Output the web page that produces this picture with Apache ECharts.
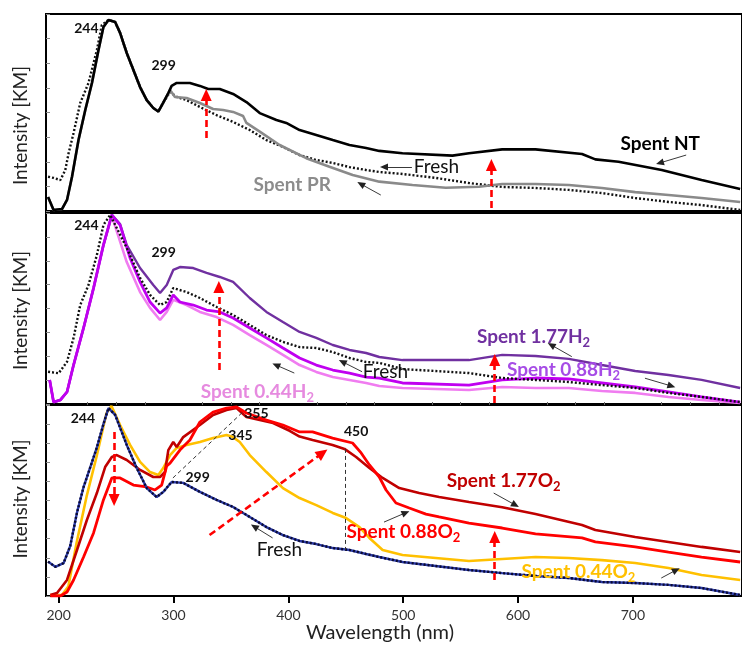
<!DOCTYPE html>
<html><head><meta charset="utf-8">
<script src="https://cdn.jsdelivr.net/npm/echarts@6/dist/echarts.min.js"></script>
<style>html,body{margin:0;padding:0;background:#fff}#c{width:742px;height:648px}</style>
</head><body><div id="c"></div>
<script>
// ---------- Tick labels ----------
const majorTicks = [200, 300, 400, 500, 600, 700];
const minorTicks = [225, 250, 275, 325, 350, 375, 425, 450, 475, 525, 550, 575, 625, 650, 675, 725, 750, 775];

// ---------- Panel 1 (Spent NT / Spent PR / Fresh) ----------
const ntLam = [190.8,195.6,202.9,207.3,211.6,217.3,223.2,229.0,234.7,239.0,243.4,249.2,253.5,259.3,265.1,270.9,276.7,282.4,286.8,291.1,295.5,298.4,302.8,314.3,323.0,330.2,340.3,351.9,363.5,375.1,389.6,398.2,409.8,424.3,438.7,453.2,467.7,479.2,499.4,542.9,557.3,586.2,615.2,655.7,667.3,687.5,725.1,759.8,793.4];
const ntVal = [7.1,0.5,1.0,5.6,17.3,36.0,51.3,65.0,81.7,93.4,97.0,95.9,90.4,80.2,71.6,62.9,56.3,52.3,50.5,55.0,59.9,63.5,65.0,65.0,63.5,61.9,61.9,59.4,55.3,49.7,46.2,44.7,41.1,38.6,36.0,33.5,32.0,30.5,29.3,28.1,29.3,31.3,31.3,28.9,26.2,25.0,20.8,15.7,11.2];
const prLam = [190.8,195.6,202.9,207.3,211.6,217.3,223.2,229.0,234.7,239.0,243.4,249.2,253.5,259.3,265.1,270.9,276.7,282.4,286.8,291.1,297.0,301.3,311.4,323.0,334.5,343.2,351.9,360.6,363.5,375.1,392.4,415.6,435.8,456.0,479.2,508.1,537.1,566.0,586.2,615.2,644.2,673.0,702.0,731.0,759.8,793.4];
const prVal = [7.1,0.5,1.0,5.6,17.3,36.0,51.3,65.0,81.7,93.4,97.0,95.9,90.4,80.2,71.6,62.9,56.3,52.3,50.5,55.0,61.4,57.9,57.4,54.8,51.8,51.3,50.3,48.2,44.7,40.3,33.5,26.8,22.5,18.3,14.9,13.2,11.8,12.3,13.7,13.7,13.2,11.7,9.6,8.1,6.6,4.6];
const fresh1Lam = [190.8,195.6,201.5,205.8,208.7,213.0,218.8,226.0,233.3,237.6,243.4,249.2,253.5,259.3,265.1,270.9,276.7,282.4,286.8,291.1,297.0,302.8,311.4,323.0,337.5,351.9,366.4,380.9,395.3,409.8,424.3,438.7,453.2,467.7,479.2,499.4,528.3,557.3,586.2,615.2,644.2,673.0,702.0,731.0,759.8,793.4];
const fresh1Val = [17.4,16.8,15.7,20.8,29.4,39.6,54.8,65.0,81.7,94.4,97.0,95.9,90.4,80.2,71.6,62.9,56.3,52.3,50.5,55.0,60.4,57.9,56.3,52.8,48.7,45.2,41.1,36.0,32.5,28.4,25.9,24.4,22.3,20.8,19.8,18.8,16.8,14.2,12.2,11.7,10.7,9.1,6.6,4.6,3.0,0.5];

// ---------- Panel 2 (H2 series) ----------
const h177Lam = [192.2,195.6,201.5,207.3,213.0,221.7,230.4,239.0,246.3,253.5,259.3,270.9,282.4,288.3,294.1,299.8,305.6,317.2,328.8,340.3,351.9,366.4,380.9,395.3,409.8,424.3,438.7,453.2,467.7,479.2,499.4,557.3,586.2,615.2,644.2,673.0,702.0,731.0,759.8,793.4];
const h177Val = [12.6,1.0,2.1,6.3,20.4,39.8,60.7,83.2,99.0,94.2,83.2,71.2,62.3,58.1,62.3,70.2,71.7,71.2,68.6,66.5,63.9,55.5,48.2,42.9,37.7,34.6,30.9,28.3,26.7,24.6,23.0,23.0,25.7,25.1,23.6,20.4,17.3,15.2,12.6,8.4];
const h088Lam = [192.2,195.6,201.5,207.3,213.0,221.7,230.4,239.0,246.3,253.5,262.2,270.9,279.6,288.3,294.1,299.8,305.6,317.2,328.8,340.3,351.9,366.4,380.9,395.3,409.8,424.3,438.7,453.2,467.7,479.2,499.4,557.3,586.2,615.2,644.2,673.0,702.0,731.0,759.8,793.4];
const h088Val = [12.6,1.0,2.1,6.3,20.4,39.8,60.7,83.2,99.0,93.7,76.4,63.9,53.4,47.6,50.3,57.1,53.4,51.8,49.2,48.2,45.0,39.8,34.6,29.3,24.1,20.4,17.8,16.2,14.1,13.6,11.0,9.9,12.6,13.6,13.1,11.0,8.9,6.3,3.7,1.0];
const h044Lam = [192.2,195.6,201.5,207.3,213.0,221.7,230.4,239.0,246.3,259.3,270.9,279.6,288.3,294.1,299.8,311.4,323.0,337.5,351.9,366.4,380.9,395.3,409.8,424.3,438.7,453.2,467.7,479.2,499.4,557.3,586.2,615.2,644.2,673.0,702.0,731.0,759.8,793.4];
const h044Val = [12.6,1.0,2.1,6.3,20.4,39.8,60.7,83.2,98.5,74.3,58.6,50.3,44.0,48.2,54.5,51.8,48.2,45.5,41.4,36.1,30.9,25.7,20.4,16.8,14.1,12.6,11.0,9.4,8.4,7.3,8.9,8.4,8.4,6.8,5.8,3.7,2.1,0.5];
const fresh2Lam = [190.8,200.0,207.3,213.0,218.8,226.0,233.3,239.0,244.9,259.3,270.9,279.6,288.3,294.1,299.8,311.4,323.0,337.5,351.9,366.4,380.9,395.3,409.8,424.3,438.7,453.2,467.7,479.2,499.4,557.3,586.2,615.2,644.2,673.0,702.0,731.0,759.8,793.4];
const fresh2Val = [16.9,16.1,22.1,34.6,51.8,62.3,78.0,93.7,99.0,81.7,66.0,57.1,51.8,53.4,60.7,58.6,55.5,50.8,46.6,41.4,36.1,32.5,29.8,29.3,27.2,24.1,22.0,21.5,18.3,16.2,13.6,12.6,11.5,9.9,8.4,5.8,3.7,1.0];

// ---------- Panel 3 (O2 series) ----------
const fresh3Lam = [190.8,197.1,204.3,210.1,216.0,221.7,227.5,233.3,239.0,243.4,249.2,259.3,268.0,276.7,285.4,291.1,298.4,308.5,323.0,337.5,351.9,366.4,380.9,395.3,409.8,424.3,438.7,453.2,467.7,479.2,499.4,528.3,557.3,586.2,615.2,644.2,673.0,702.0,731.0,759.8,793.4];
const fresh3Val = [18.0,15.3,17.2,26.2,43.7,57.0,67.3,77.8,90.0,98.4,94.8,79.1,67.0,56.5,51.8,54.5,59.7,59.2,54.5,50.3,46.6,41.4,36.1,31.9,28.8,27.2,25.1,24.1,22.0,20.4,17.8,15.7,13.6,12.0,10.5,9.4,7.3,6.8,5.8,4.2,0.5];
const o044Lam = [192.8,202.9,208.4,215.6,224.3,233.0,241.7,246.0,253.5,262.2,270.9,279.6,286.8,291.1,297.0,302.8,311.4,323.0,334.5,346.2,351.9,357.7,366.4,380.9,395.3,409.8,424.3,438.7,450.3,461.9,470.6,482.1,499.4,528.3,557.3,586.2,615.2,644.2,673.0,702.0,731.0,759.8,793.4];
const o044Val = [0.5,0.5,4.9,27.7,52.0,72.9,95.8,99.5,89.5,79.1,70.2,64.9,63.4,67.0,73.8,77.5,79.1,80.6,82.7,84.3,83.2,80.6,73.8,64.9,56.5,51.3,47.6,43.5,40.8,36.1,30.4,24.1,21.5,19.9,18.3,19.4,20.4,19.9,18.8,17.3,14.7,11.0,8.4];
const o177Lam = [192.8,198.6,207.3,216.0,224.6,233.3,240.5,246.3,250.6,259.3,270.9,282.4,288.3,292.6,295.5,299.8,302.8,308.5,323.0,334.5,346.2,354.9,363.5,375.1,386.7,401.1,409.8,421.1,438.5,448.9,459.0,470.6,482.1,496.6,513.9,531.3,557.3,586.2,615.2,655.7,667.3,702.0,731.0,759.8,793.4];
const o177Val = [0.5,1.6,8.4,24.1,39.8,53.9,67.5,72.8,73.8,71.2,66.0,62.3,62.3,64.9,76.4,80.6,78.0,83.2,89.5,94.8,97.4,98.4,93.7,92.1,90.6,86.5,83.5,81.7,79.1,77.0,72.8,67.0,61.8,56.5,53.9,51.8,49.2,46.5,42.9,37.2,34.6,30.9,28.3,25.7,23.0];
const o088Lam = [192.8,201.5,207.3,213.0,221.7,230.4,239.0,246.3,253.5,265.1,276.7,283.9,289.7,294.1,297.0,305.6,314.3,323.0,334.5,346.2,354.9,363.5,380.9,395.3,409.8,421.1,438.5,455.9,463.4,470.6,479.2,485.1,493.7,505.3,519.8,531.3,557.3,586.2,615.2,655.7,667.3,702.0,731.0,759.8,793.4];
const o088Val = [0,0,2.1,8.4,20.4,33.0,50.3,61.8,61.8,58.1,57.1,55.5,58.1,68.1,69.6,76.4,81.7,91.1,96.3,98.4,99.0,95.8,92.1,89.5,85.9,85.9,82.7,80.1,74.9,68.6,62.3,55.5,48.7,46.1,42.9,41.4,38.2,35.6,32.5,30.4,28.3,25.7,23.0,20.4,17.8];

// ---------- Annotations (data coordinates) ----------
const labels1 = [
  {t:'244', at:[224.2,92.4], k:'num'}, {t:'299', at:[291.4,74.1], k:'num'},
  {t:'Spent NT', at:[723.8,34.2], k:'nt'}, {t:'Spent PR', at:[403.4,13.2], k:'pr'},
  {t:'Fresh', at:[528.9,22.3], k:'fresh'}
];
const labels2 = [
  {t:'244', at:[224.2,93.7], k:'num'}, {t:'299', at:[291.4,79.1], k:'num'},
  {t:'Spent 1.77H', sub:'2', at:[613.5,35.1], k:'h177'},
  {t:'Spent 0.88H', sub:'2', at:[639.6,17.8], k:'h088'},
  {t:'Spent 0.44H', sub:'2', at:[373.1,6.3], k:'h044'},
  {t:'Fresh', at:[484.6,16.8], k:'fresh'}
];
const labels3 = [
  {t:'244', at:[221.1,93.2], k:'num'}, {t:'299', at:[321.0,61.8], k:'num'},
  {t:'355', at:[372.2,95.8], k:'num'}, {t:'345', at:[358.3,83.8], k:'num'},
  {t:'450', at:[459.0,85.9], k:'num'},
  {t:'Spent 1.77O', sub:'2', at:[587.5,60.2], k:'o177'},
  {t:'Spent 0.88O', sub:'2', at:[500.2,33.5], k:'o088'},
  {t:'Spent 0.44O', sub:'2', at:[652.6,12.6], k:'o044'},
  {t:'Fresh', at:[392.2,24.1], k:'fresh'}
];
const arrows1 = [
  {from:[328.5,37.1], to:[328.5,58.9], k:'red'}, {from:[576.8,1.5], to:[576.8,23.4], k:'red'},
  {from:[507.6,22.3], to:[483.3,22.3], k:'thin'}, {from:[480.5,8.1], to:[463.1,13.7], k:'thin'},
  {from:[746.4,28.4], to:[723.5,24.4], k:'thin'}
];
const arrows2 = [
  {from:[339.5,17.8], to:[339.5,61.3], k:'red'}, {from:[579.7,0.5], to:[579.7,23.0], k:'red'},
  {from:[464.2,16.9], to:[447.1,22.1], k:'thin'}, {from:[405.2,16.2], to:[389.3,20.4], k:'thin'},
  {from:[646.8,24.8], to:[628.9,30.9], k:'thin'}, {from:[710.5,13.5], to:[733.6,9.4], k:'thin'}
];
const arrows3 = [
  {from:[248.3,85.9], to:[248.3,50.3], k:'red'}, {from:[331.4,31.9], to:[429.8,74.9], k:'red'},
  {from:[579.7,8.4], to:[579.7,30.9], k:'red'},
  {from:[299.5,61.8], to:[360.3,96.3], k:'dash'}, {from:[449.5,77.0], to:[449.5,24.1], k:'dash'},
  {from:[386.3,30.4], to:[370.4,36.3], k:'thin'}, {from:[483.3,38.7], to:[502.2,43.6], k:'thin'},
  {from:[578.8,53.9], to:[597.7,47.6], k:'thin'}, {from:[724.7,9.4], to:[737.7,13.6], k:'thin'}
];

// ---------- Styling ----------
const FONT = 'Lato';
const X_MIN = 189, X_MAX = 795;
const C = {
  nt:'#000000', pr:'#8A8A8A', fresh:'#111111',
  h177:'#7030A0', h088:'#C000F0', h044:'#F07CF0',
  o177:'#C00000', o088:'#FF0000', o044:'#FFC000', navy:'#2B3AA8'
};
const labelColor = {num:'#111', nt:'#000', pr:'#8C8C8C', fresh:'#111',
  h177:'#7030A0', h088:'#A64CE6', h044:'#E68ADF', o177:'#C00000', o088:'#FF0000', o044:'#FFC000'};

const pairs = (l, v) => l.map((x, i) => [x, v[i]]);

function markPointFor(labels) {
  return {
    silent: true,
    symbol: 'circle', symbolSize: 1,
    itemStyle: {color: 'rgba(0,0,0,0)'},
    data: labels.map(L => {
      const col = labelColor[L.k];
      let style;
      if (L.k === 'num') style = {fontSize: 14, fontWeight: 'bold'};
      else if (L.k === 'fresh') style = {fontSize: 19, fontWeight: 'normal'};
      else style = {fontSize: 19, fontWeight: 'bold'};
      const fmt = L.sub ? '{a|' + L.t + '}{s|' + L.sub + '}' : '{a|' + L.t + '}';
      return {
        coord: L.at,
        label: {
          show: true, position: 'inside', formatter: fmt,
          rich: {
            a: {fontFamily: FONT, color: col, fontSize: style.fontSize, fontWeight: style.fontWeight},
            s: {fontFamily: FONT, color: col, fontSize: 13, fontWeight: 'bold', padding: [11, 0, 0, 0]}
          }
        }
      };
    })
  };
}
function markLineFor(arrows) {
  return {
    silent: true, animation: false,
    label: {show: false},
    data: arrows.map(A => {
      let ls, head;
      if (A.k === 'red') { ls = {color: '#FF0000', width: 2.6, type: [7, 4]}; head = [11, 12]; }
      else if (A.k === 'thin') { ls = {color: '#222', width: 0.9, type: 'solid'}; head = [7, 8]; }
      else { ls = {color: '#333', width: 1, type: [4, 3]}; head = null; }
      return [
        {coord: A.from, symbol: 'none', lineStyle: ls, itemStyle: {color: ls.color}},
        {coord: A.to, symbol: head ? 'triangle' : 'none', symbolSize: head || 0, lineStyle: ls, itemStyle: {color: ls.color}}
      ];
    })
  };
}
function lineSeries(idx, data, color, width, type, extra) {
  return Object.assign({
    type: 'line', xAxisIndex: idx, yAxisIndex: idx, data: data,
    showSymbol: false, symbol: 'none', silent: true,
    lineStyle: {color: color, width: width, type: type || 'solid', cap: 'butt'},
    itemStyle: {color: color}, z: 2
  }, extra || {});
}

const grids = [
  {left: 46, top: 14, width: 698, height: 197},
  {left: 46, top: 213, width: 698, height: 191},
  {left: 46, top: 405, width: 698, height: 191}
].map(g => Object.assign(g, {show: true, borderColor: '#000', borderWidth: 2, backgroundColor: 'transparent', containLabel: false}));

const hiddenX = i => ({type: 'value', gridIndex: i, min: X_MIN, max: X_MAX,
  axisLine: {show: false}, axisTick: {show: false}, axisLabel: {show: false}, splitLine: {show: false}});

const xAxes = [
  hiddenX(0), hiddenX(1),
  {type: 'value', gridIndex: 2, min: X_MIN, max: X_MAX,
   axisLine: {show: true, lineStyle: {color: '#000', width: 2}},
   axisTick: {show: true, customValues: majorTicks, length: 7, lineStyle: {color: '#000', width: 2}},
   axisLabel: {show: true, customValues: majorTicks, margin: 12, fontFamily: FONT, fontSize: 14, color: '#333'},
   splitLine: {show: false},
   name: 'Wavelength (nm)', nameLocation: 'middle', nameGap: 26,
   nameTextStyle: {fontFamily: FONT, fontSize: 20, color: '#222', padding: [0, 28, 0, 0]}},
  {type: 'value', gridIndex: 2, min: X_MIN, max: X_MAX,
   axisLine: {show: false},
   axisTick: {show: true, customValues: minorTicks, length: 3, lineStyle: {color: '#666', width: 1}},
   axisLabel: {show: false}, splitLine: {show: false}}
];

const yAx = (i, interval, pad) => ({
  type: 'value', gridIndex: i, min: 0, max: 100, interval: interval,
  axisLine: {show: false},
  axisTick: {show: true, inside: true, length: 4, lineStyle: {color: '#888', width: 1}},
  axisLabel: {show: false}, splitLine: {show: false},
  name: 'Intensity [KM]', nameLocation: 'middle', nameGap: 16, nameRotate: 90,
  nameTextStyle: {fontFamily: FONT, fontSize: 19, color: '#222', padding: pad}
});
const yAxes = [yAx(0, 12.5, [0, 26, 0, 0]), yAx(1, 12.5, [0, 4, 0, 0]), yAx(2, 10, [0, 0, 0, 3])];

const series = [
  // panel 1
  lineSeries(0, pairs(fresh1Lam, fresh1Val), C.fresh, 2.4, [2, 2]),
  lineSeries(0, pairs(prLam, prVal), C.pr, 2.6),
  lineSeries(0, pairs(ntLam, ntVal), C.nt, 2.6, 'solid', {markPoint: markPointFor(labels1), markLine: markLineFor(arrows1)}),
  // panel 2
  lineSeries(1, pairs(h044Lam, h044Val), C.h044, 2.6),
  lineSeries(1, pairs(h177Lam, h177Val), C.h177, 2.4),
  lineSeries(1, pairs(h088Lam, h088Val), C.h088, 2.8),
  lineSeries(1, pairs(fresh2Lam, fresh2Val), C.fresh, 2.4, [2, 2], {markPoint: markPointFor(labels2), markLine: markLineFor(arrows2)}),
  // panel 3
  lineSeries(2, pairs(o044Lam, o044Val), C.o044, 2.6),
  lineSeries(2, pairs(o177Lam, o177Val), C.o177, 2.6),
  lineSeries(2, pairs(o088Lam, o088Val), C.o088, 2.8),
  lineSeries(2, pairs(fresh3Lam, fresh3Val), C.navy, 2.4),
  lineSeries(2, pairs(fresh3Lam, fresh3Val), '#0A0A30', 2.4, [2, 2], {markPoint: markPointFor(labels3), markLine: markLineFor(arrows3)})
];

const chart = echarts.init(document.getElementById('c'), null, {renderer: 'canvas'});
chart.setOption({
  animation: false,
  backgroundColor: '#ffffff',
  textStyle: {fontFamily: FONT},
  grid: grids,
  xAxis: xAxes,
  yAxis: yAxes,
  series: series
});
</script>
</body></html>
